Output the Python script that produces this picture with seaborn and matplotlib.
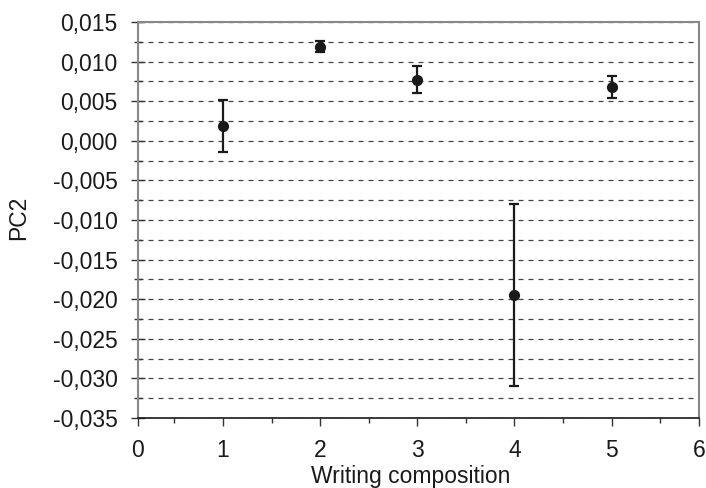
import matplotlib
matplotlib.use("Agg")
import matplotlib.pyplot as plt
import matplotlib.ticker as mticker
import seaborn as sns
import pandas as pd

# Mean PC2 score per writing composition, with error bar half-widths
composition = [1, 2, 3, 4, 5]
pc2_mean = [0.0019, 0.0119, 0.0077, -0.0195, 0.0068]
pc2_err = [0.0033, 0.0007, 0.0017, 0.0115, 0.0014]

x_tick_labels = ["0", "1", "2", "3", "4", "5", "6"]

df = pd.DataFrame({"composition": composition, "PC2": pc2_mean, "err": pc2_err})

sns.set_theme(style="white")
plt.rcParams["font.family"] = ["Liberation Sans", "DejaVu Sans"]

fig = plt.figure(figsize=(7.06, 4.88), dpi=100)
ax = fig.add_axes([0.1948, 0.1434, 0.7952, 0.8116])

# dashed grid on every quarter step of the y axis
ax.set_ylim(-0.035, 0.015)
ax.yaxis.set_major_locator(mticker.MultipleLocator(0.005))
ax.yaxis.set_minor_locator(mticker.MultipleLocator(0.0025))
ax.yaxis.set_major_formatter(
    mticker.FuncFormatter(lambda v, _: f"{v:.3f}".replace(".", ",").replace("-0,000", "0,000"))
)
ax.grid(axis="y", which="both", linestyle=(0, (4, 4)), color="#444444", linewidth=0.9)
ax.set_axisbelow(True)

ax.errorbar(df["composition"], df["PC2"], yerr=df["err"], fmt="none",
            ecolor="#1a1a1a", elinewidth=1.6, capsize=3.5, capthick=1.6, zorder=3)
sns.scatterplot(data=df, x="composition", y="PC2", ax=ax, color="#1a1a1a",
                s=65, edgecolor="#1a1a1a", linewidth=0, zorder=4)

# x axis: edge labels sit at the plot borders
x_lo, x_hi = 0.12, 5.9
ax.set_xlim(x_lo, x_hi)
ax.xaxis.set_major_locator(mticker.FixedLocator([x_lo, 1, 2, 3, 4, 5, x_hi]))
ax.xaxis.set_major_formatter(mticker.FixedFormatter(x_tick_labels))
ax.xaxis.set_minor_locator(mticker.FixedLocator([0.5, 1.5, 2.5, 3.5, 4.5, 5.5]))

ax.tick_params(axis="x", which="major", direction="out", length=6, width=1,
               color="#333333", labelsize=16.5, pad=9, bottom=True)
ax.tick_params(axis="x", which="minor", direction="out", length=3.5, width=1,
               color="#333333", bottom=True)
ax.tick_params(axis="y", which="major", direction="inout", length=10, width=1,
               color="#333333", labelsize=16.5, pad=9.5, left=True)
ax.tick_params(axis="y", which="minor", direction="inout", length=6, width=1,
               color="#333333", left=True)

for side in ["top", "right", "left"]:
    ax.spines[side].set_color("#888888")
    ax.spines[side].set_linewidth(1.5)
ax.spines["bottom"].set_color("#1a1a1a")
ax.spines["bottom"].set_linewidth(1.2)

ax.set_xlabel("Writing composition", fontsize=16.5, color="#1a1a1a")
ax.set_ylabel("PC2", fontsize=16.5, color="#1a1a1a")
ax.xaxis.set_label_coords(0.487, -0.119)
ax.yaxis.set_label_coords(-0.191, 0.505)
for lbl in ax.get_xticklabels() + ax.get_yticklabels():
    lbl.set_color("#1a1a1a")

fig.savefig("out.png", dpi=100)
